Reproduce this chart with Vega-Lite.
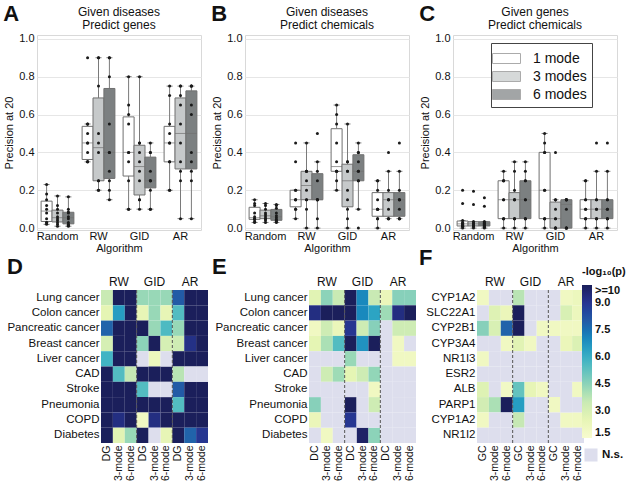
{
"$schema":"https://vega.github.io/schema/vega-lite/v6.json",
"padding":{"left":3,"top":3,"right":0,"bottom":0},
"config":{"font":"Liberation Sans","view":{"stroke":null},"axis":{"labelColor":"#111111","titleColor":"#111111","labelFont":"Liberation Sans","titleFont":"Liberation Sans","titleFontWeight":"normal"},"title":{"color":"#111111","font":"Liberation Sans"},"legend":{"labelColor":"#111111","titleColor":"#111111","labelFont":"Liberation Sans","titleFont":"Liberation Sans"}},
"datasets":{
"A":[
{"a":"Random","m":"1 mode","v":0.02},{"a":"Random","m":"1 mode","v":0.03},{"a":"Random","m":"1 mode","v":0.03},{"a":"Random","m":"1 mode","v":0.05},{"a":"Random","m":"1 mode","v":0.08},{"a":"Random","m":"1 mode","v":0.1},{"a":"Random","m":"1 mode","v":0.12},{"a":"Random","m":"1 mode","v":0.15},{"a":"Random","m":"1 mode","v":0.18},{"a":"Random","m":"1 mode","v":0.23},
{"a":"Random","m":"3 modes","v":0.01},{"a":"Random","m":"3 modes","v":0.02},{"a":"Random","m":"3 modes","v":0.03},{"a":"Random","m":"3 modes","v":0.04},{"a":"Random","m":"3 modes","v":0.05},{"a":"Random","m":"3 modes","v":0.06},{"a":"Random","m":"3 modes","v":0.08},{"a":"Random","m":"3 modes","v":0.1},{"a":"Random","m":"3 modes","v":0.12},{"a":"Random","m":"3 modes","v":0.17},
{"a":"Random","m":"6 modes","v":0.01},{"a":"Random","m":"6 modes","v":0.015},{"a":"Random","m":"6 modes","v":0.02},{"a":"Random","m":"6 modes","v":0.03},{"a":"Random","m":"6 modes","v":0.05},{"a":"Random","m":"6 modes","v":0.06},{"a":"Random","m":"6 modes","v":0.08},{"a":"Random","m":"6 modes","v":0.085},{"a":"Random","m":"6 modes","v":0.1},{"a":"Random","m":"6 modes","v":0.165},
{"a":"RW","m":"1 mode","v":0.35},{"a":"RW","m":"1 mode","v":0.35},{"a":"RW","m":"1 mode","v":0.35},{"a":"RW","m":"1 mode","v":0.4},{"a":"RW","m":"1 mode","v":0.45},{"a":"RW","m":"1 mode","v":0.45},{"a":"RW","m":"1 mode","v":0.5},{"a":"RW","m":"1 mode","v":0.55},{"a":"RW","m":"1 mode","v":0.55},{"a":"RW","m":"1 mode","v":0.9},
{"a":"RW","m":"3 modes","v":0.2},{"a":"RW","m":"3 modes","v":0.2},{"a":"RW","m":"3 modes","v":0.25},{"a":"RW","m":"3 modes","v":0.25},{"a":"RW","m":"3 modes","v":0.4},{"a":"RW","m":"3 modes","v":0.45},{"a":"RW","m":"3 modes","v":0.5},{"a":"RW","m":"3 modes","v":0.75},{"a":"RW","m":"3 modes","v":0.9},{"a":"RW","m":"3 modes","v":0.9},
{"a":"RW","m":"6 modes","v":0.15},{"a":"RW","m":"6 modes","v":0.2},{"a":"RW","m":"6 modes","v":0.25},{"a":"RW","m":"6 modes","v":0.3},{"a":"RW","m":"6 modes","v":0.4},{"a":"RW","m":"6 modes","v":0.4},{"a":"RW","m":"6 modes","v":0.55},{"a":"RW","m":"6 modes","v":0.8},{"a":"RW","m":"6 modes","v":0.9},{"a":"RW","m":"6 modes","v":0.9},
{"a":"GID","m":"1 mode","v":0.1},{"a":"GID","m":"1 mode","v":0.1},{"a":"GID","m":"1 mode","v":0.25},{"a":"GID","m":"1 mode","v":0.35},{"a":"GID","m":"1 mode","v":0.4},{"a":"GID","m":"1 mode","v":0.4},{"a":"GID","m":"1 mode","v":0.55},{"a":"GID","m":"1 mode","v":0.6},{"a":"GID","m":"1 mode","v":0.65},{"a":"GID","m":"1 mode","v":0.8},
{"a":"GID","m":"3 modes","v":0.1},{"a":"GID","m":"3 modes","v":0.15},{"a":"GID","m":"3 modes","v":0.15},{"a":"GID","m":"3 modes","v":0.25},{"a":"GID","m":"3 modes","v":0.3},{"a":"GID","m":"3 modes","v":0.35},{"a":"GID","m":"3 modes","v":0.4},{"a":"GID","m":"3 modes","v":0.45},{"a":"GID","m":"3 modes","v":0.45},{"a":"GID","m":"3 modes","v":0.8},
{"a":"GID","m":"6 modes","v":0.1},{"a":"GID","m":"6 modes","v":0.1},{"a":"GID","m":"6 modes","v":0.2},{"a":"GID","m":"6 modes","v":0.25},{"a":"GID","m":"6 modes","v":0.25},{"a":"GID","m":"6 modes","v":0.25},{"a":"GID","m":"6 modes","v":0.3},{"a":"GID","m":"6 modes","v":0.4},{"a":"GID","m":"6 modes","v":0.4},{"a":"GID","m":"6 modes","v":0.45},
{"a":"AR","m":"1 mode","v":0.2},{"a":"AR","m":"1 mode","v":0.2},{"a":"AR","m":"1 mode","v":0.35},{"a":"AR","m":"1 mode","v":0.35},{"a":"AR","m":"1 mode","v":0.45},{"a":"AR","m":"1 mode","v":0.45},{"a":"AR","m":"1 mode","v":0.5},{"a":"AR","m":"1 mode","v":0.55},{"a":"AR","m":"1 mode","v":0.7},{"a":"AR","m":"1 mode","v":0.75},
{"a":"AR","m":"3 modes","v":0.05},{"a":"AR","m":"3 modes","v":0.25},{"a":"AR","m":"3 modes","v":0.3},{"a":"AR","m":"3 modes","v":0.35},{"a":"AR","m":"3 modes","v":0.45},{"a":"AR","m":"3 modes","v":0.55},{"a":"AR","m":"3 modes","v":0.65},{"a":"AR","m":"3 modes","v":0.7},{"a":"AR","m":"3 modes","v":0.75},{"a":"AR","m":"3 modes","v":0.75},
{"a":"AR","m":"6 modes","v":0.05},{"a":"AR","m":"6 modes","v":0.25},{"a":"AR","m":"6 modes","v":0.3},{"a":"AR","m":"6 modes","v":0.35},{"a":"AR","m":"6 modes","v":0.4},{"a":"AR","m":"6 modes","v":0.6},{"a":"AR","m":"6 modes","v":0.65},{"a":"AR","m":"6 modes","v":0.75},{"a":"AR","m":"6 modes","v":0.75},{"a":"AR","m":"6 modes","v":0.75}
],
"B":[
{"a":"Random","m":"1 mode","v":0.03},{"a":"Random","m":"1 mode","v":0.035},{"a":"Random","m":"1 mode","v":0.045},{"a":"Random","m":"1 mode","v":0.05},{"a":"Random","m":"1 mode","v":0.05},{"a":"Random","m":"1 mode","v":0.06},{"a":"Random","m":"1 mode","v":0.08},{"a":"Random","m":"1 mode","v":0.12},{"a":"Random","m":"1 mode","v":0.13},{"a":"Random","m":"1 mode","v":0.15},
{"a":"Random","m":"3 modes","v":0.03},{"a":"Random","m":"3 modes","v":0.04},{"a":"Random","m":"3 modes","v":0.05},{"a":"Random","m":"3 modes","v":0.05},{"a":"Random","m":"3 modes","v":0.06},{"a":"Random","m":"3 modes","v":0.07},{"a":"Random","m":"3 modes","v":0.08},{"a":"Random","m":"3 modes","v":0.1},{"a":"Random","m":"3 modes","v":0.12},{"a":"Random","m":"3 modes","v":0.13},
{"a":"Random","m":"6 modes","v":0.03},{"a":"Random","m":"6 modes","v":0.035},{"a":"Random","m":"6 modes","v":0.04},{"a":"Random","m":"6 modes","v":0.045},{"a":"Random","m":"6 modes","v":0.055},{"a":"Random","m":"6 modes","v":0.065},{"a":"Random","m":"6 modes","v":0.08},{"a":"Random","m":"6 modes","v":0.105},{"a":"Random","m":"6 modes","v":0.12},{"a":"Random","m":"6 modes","v":0.125},
{"a":"RW","m":"1 mode","v":0.05},{"a":"RW","m":"1 mode","v":0.1},{"a":"RW","m":"1 mode","v":0.1},{"a":"RW","m":"1 mode","v":0.15},{"a":"RW","m":"1 mode","v":0.15},{"a":"RW","m":"1 mode","v":0.15},{"a":"RW","m":"1 mode","v":0.2},{"a":"RW","m":"1 mode","v":0.2},{"a":"RW","m":"1 mode","v":0.35},{"a":"RW","m":"1 mode","v":0.45},
{"a":"RW","m":"3 modes","v":0.0},{"a":"RW","m":"3 modes","v":0.1},{"a":"RW","m":"3 modes","v":0.15},{"a":"RW","m":"3 modes","v":0.15},{"a":"RW","m":"3 modes","v":0.2},{"a":"RW","m":"3 modes","v":0.25},{"a":"RW","m":"3 modes","v":0.3},{"a":"RW","m":"3 modes","v":0.3},{"a":"RW","m":"3 modes","v":0.3},{"a":"RW","m":"3 modes","v":0.45},
{"a":"RW","m":"6 modes","v":0.0},{"a":"RW","m":"6 modes","v":0.05},{"a":"RW","m":"6 modes","v":0.15},{"a":"RW","m":"6 modes","v":0.15},{"a":"RW","m":"6 modes","v":0.15},{"a":"RW","m":"6 modes","v":0.15},{"a":"RW","m":"6 modes","v":0.25},{"a":"RW","m":"6 modes","v":0.3},{"a":"RW","m":"6 modes","v":0.35},{"a":"RW","m":"6 modes","v":0.5},
{"a":"GID","m":"1 mode","v":0.2},{"a":"GID","m":"1 mode","v":0.25},{"a":"GID","m":"1 mode","v":0.3},{"a":"GID","m":"1 mode","v":0.3},{"a":"GID","m":"1 mode","v":0.3},{"a":"GID","m":"1 mode","v":0.35},{"a":"GID","m":"1 mode","v":0.45},{"a":"GID","m":"1 mode","v":0.55},{"a":"GID","m":"1 mode","v":0.6},{"a":"GID","m":"1 mode","v":0.65},
{"a":"GID","m":"3 modes","v":0.0},{"a":"GID","m":"3 modes","v":0.05},{"a":"GID","m":"3 modes","v":0.1},{"a":"GID","m":"3 modes","v":0.15},{"a":"GID","m":"3 modes","v":0.2},{"a":"GID","m":"3 modes","v":0.3},{"a":"GID","m":"3 modes","v":0.3},{"a":"GID","m":"3 modes","v":0.35},{"a":"GID","m":"3 modes","v":0.35},{"a":"GID","m":"3 modes","v":0.55},
{"a":"GID","m":"6 modes","v":0.0},{"a":"GID","m":"6 modes","v":0.1},{"a":"GID","m":"6 modes","v":0.25},{"a":"GID","m":"6 modes","v":0.25},{"a":"GID","m":"6 modes","v":0.3},{"a":"GID","m":"6 modes","v":0.3},{"a":"GID","m":"6 modes","v":0.35},{"a":"GID","m":"6 modes","v":0.4},{"a":"GID","m":"6 modes","v":0.4},{"a":"GID","m":"6 modes","v":0.45},
{"a":"AR","m":"1 mode","v":0.0},{"a":"AR","m":"1 mode","v":0.05},{"a":"AR","m":"1 mode","v":0.05},{"a":"AR","m":"1 mode","v":0.1},{"a":"AR","m":"1 mode","v":0.1},{"a":"AR","m":"1 mode","v":0.1},{"a":"AR","m":"1 mode","v":0.15},{"a":"AR","m":"1 mode","v":0.2},{"a":"AR","m":"1 mode","v":0.25},{"a":"AR","m":"1 mode","v":0.25},
{"a":"AR","m":"3 modes","v":0.05},{"a":"AR","m":"3 modes","v":0.05},{"a":"AR","m":"3 modes","v":0.05},{"a":"AR","m":"3 modes","v":0.1},{"a":"AR","m":"3 modes","v":0.15},{"a":"AR","m":"3 modes","v":0.15},{"a":"AR","m":"3 modes","v":0.15},{"a":"AR","m":"3 modes","v":0.2},{"a":"AR","m":"3 modes","v":0.3},{"a":"AR","m":"3 modes","v":0.4},
{"a":"AR","m":"6 modes","v":0.05},{"a":"AR","m":"6 modes","v":0.05},{"a":"AR","m":"6 modes","v":0.05},{"a":"AR","m":"6 modes","v":0.1},{"a":"AR","m":"6 modes","v":0.15},{"a":"AR","m":"6 modes","v":0.15},{"a":"AR","m":"6 modes","v":0.15},{"a":"AR","m":"6 modes","v":0.2},{"a":"AR","m":"6 modes","v":0.3},{"a":"AR","m":"6 modes","v":0.45}
],
"C":[
{"a":"Random","m":"1 mode","v":0.0},{"a":"Random","m":"1 mode","v":0.01},{"a":"Random","m":"1 mode","v":0.01},{"a":"Random","m":"1 mode","v":0.015},{"a":"Random","m":"1 mode","v":0.02},{"a":"Random","m":"1 mode","v":0.025},{"a":"Random","m":"1 mode","v":0.03},{"a":"Random","m":"1 mode","v":0.04},{"a":"Random","m":"1 mode","v":0.13},{"a":"Random","m":"1 mode","v":0.2},
{"a":"Random","m":"3 modes","v":0.0},{"a":"Random","m":"3 modes","v":0.01},{"a":"Random","m":"3 modes","v":0.01},{"a":"Random","m":"3 modes","v":0.015},{"a":"Random","m":"3 modes","v":0.02},{"a":"Random","m":"3 modes","v":0.025},{"a":"Random","m":"3 modes","v":0.03},{"a":"Random","m":"3 modes","v":0.035},{"a":"Random","m":"3 modes","v":0.125},{"a":"Random","m":"3 modes","v":0.195},
{"a":"Random","m":"6 modes","v":0.0},{"a":"Random","m":"6 modes","v":0.005},{"a":"Random","m":"6 modes","v":0.01},{"a":"Random","m":"6 modes","v":0.015},{"a":"Random","m":"6 modes","v":0.02},{"a":"Random","m":"6 modes","v":0.025},{"a":"Random","m":"6 modes","v":0.03},{"a":"Random","m":"6 modes","v":0.035},{"a":"Random","m":"6 modes","v":0.115},{"a":"Random","m":"6 modes","v":0.16},
{"a":"RW","m":"1 mode","v":0.0},{"a":"RW","m":"1 mode","v":0.05},{"a":"RW","m":"1 mode","v":0.05},{"a":"RW","m":"1 mode","v":0.05},{"a":"RW","m":"1 mode","v":0.15},{"a":"RW","m":"1 mode","v":0.15},{"a":"RW","m":"1 mode","v":0.25},{"a":"RW","m":"1 mode","v":0.25},{"a":"RW","m":"1 mode","v":0.25},{"a":"RW","m":"1 mode","v":0.3},
{"a":"RW","m":"3 modes","v":0.0},{"a":"RW","m":"3 modes","v":0.05},{"a":"RW","m":"3 modes","v":0.05},{"a":"RW","m":"3 modes","v":0.05},{"a":"RW","m":"3 modes","v":0.15},{"a":"RW","m":"3 modes","v":0.15},{"a":"RW","m":"3 modes","v":0.15},{"a":"RW","m":"3 modes","v":0.2},{"a":"RW","m":"3 modes","v":0.3},{"a":"RW","m":"3 modes","v":0.35},
{"a":"RW","m":"6 modes","v":0.0},{"a":"RW","m":"6 modes","v":0.05},{"a":"RW","m":"6 modes","v":0.05},{"a":"RW","m":"6 modes","v":0.05},{"a":"RW","m":"6 modes","v":0.15},{"a":"RW","m":"6 modes","v":0.15},{"a":"RW","m":"6 modes","v":0.25},{"a":"RW","m":"6 modes","v":0.25},{"a":"RW","m":"6 modes","v":0.3},{"a":"RW","m":"6 modes","v":0.35},
{"a":"GID","m":"1 mode","v":0.0},{"a":"GID","m":"1 mode","v":0.05},{"a":"GID","m":"1 mode","v":0.05},{"a":"GID","m":"1 mode","v":0.05},{"a":"GID","m":"1 mode","v":0.2},{"a":"GID","m":"1 mode","v":0.2},{"a":"GID","m":"1 mode","v":0.4},{"a":"GID","m":"1 mode","v":0.4},{"a":"GID","m":"1 mode","v":0.45},{"a":"GID","m":"1 mode","v":0.5},
{"a":"GID","m":"3 modes","v":0.0},{"a":"GID","m":"3 modes","v":0.0},{"a":"GID","m":"3 modes","v":0.0},{"a":"GID","m":"3 modes","v":0.0},{"a":"GID","m":"3 modes","v":0.05},{"a":"GID","m":"3 modes","v":0.05},{"a":"GID","m":"3 modes","v":0.1},{"a":"GID","m":"3 modes","v":0.15},{"a":"GID","m":"3 modes","v":0.15},{"a":"GID","m":"3 modes","v":0.4},
{"a":"GID","m":"6 modes","v":0.0},{"a":"GID","m":"6 modes","v":0.0},{"a":"GID","m":"6 modes","v":0.0},{"a":"GID","m":"6 modes","v":0.0},{"a":"GID","m":"6 modes","v":0.1},{"a":"GID","m":"6 modes","v":0.15},{"a":"GID","m":"6 modes","v":0.15},{"a":"GID","m":"6 modes","v":0.15},{"a":"GID","m":"6 modes","v":0.15},{"a":"GID","m":"6 modes","v":0.15},
{"a":"AR","m":"1 mode","v":0.0},{"a":"AR","m":"1 mode","v":0.05},{"a":"AR","m":"1 mode","v":0.05},{"a":"AR","m":"1 mode","v":0.05},{"a":"AR","m":"1 mode","v":0.1},{"a":"AR","m":"1 mode","v":0.1},{"a":"AR","m":"1 mode","v":0.15},{"a":"AR","m":"1 mode","v":0.15},{"a":"AR","m":"1 mode","v":0.25},{"a":"AR","m":"1 mode","v":0.25},
{"a":"AR","m":"3 modes","v":0.0},{"a":"AR","m":"3 modes","v":0.05},{"a":"AR","m":"3 modes","v":0.05},{"a":"AR","m":"3 modes","v":0.05},{"a":"AR","m":"3 modes","v":0.1},{"a":"AR","m":"3 modes","v":0.1},{"a":"AR","m":"3 modes","v":0.15},{"a":"AR","m":"3 modes","v":0.15},{"a":"AR","m":"3 modes","v":0.3},{"a":"AR","m":"3 modes","v":0.45},
{"a":"AR","m":"6 modes","v":0.0},{"a":"AR","m":"6 modes","v":0.05},{"a":"AR","m":"6 modes","v":0.05},{"a":"AR","m":"6 modes","v":0.05},{"a":"AR","m":"6 modes","v":0.1},{"a":"AR","m":"6 modes","v":0.1},{"a":"AR","m":"6 modes","v":0.15},{"a":"AR","m":"6 modes","v":0.15},{"a":"AR","m":"6 modes","v":0.3},{"a":"AR","m":"6 modes","v":0.45}
],
"D":[
{"r":"Lung cancer","c":"RW|DG","v":3.5},{"r":"Lung cancer","c":"RW|3-mode","v":10},{"r":"Lung cancer","c":"RW|6-mode","v":10},{"r":"Lung cancer","c":"GID|DG","v":4.3},{"r":"Lung cancer","c":"GID|3-mode","v":4.3},{"r":"Lung cancer","c":"GID|6-mode","v":4.3},{"r":"Lung cancer","c":"AR|DG","v":8},{"r":"Lung cancer","c":"AR|3-mode","v":10},{"r":"Lung cancer","c":"AR|6-mode","v":10},
{"r":"Colon cancer","c":"RW|DG","v":2.6},{"r":"Colon cancer","c":"RW|3-mode","v":6.5},{"r":"Colon cancer","c":"RW|6-mode","v":10},{"r":"Colon cancer","c":"GID|DG","v":2.5},{"r":"Colon cancer","c":"GID|3-mode","v":4.3},{"r":"Colon cancer","c":"GID|6-mode","v":2.5},{"r":"Colon cancer","c":"AR|DG","v":5.5},{"r":"Colon cancer","c":"AR|3-mode","v":10},{"r":"Colon cancer","c":"AR|6-mode","v":10},
{"r":"Pancreatic cancer","c":"RW|DG","v":7.8},{"r":"Pancreatic cancer","c":"RW|3-mode","v":10},{"r":"Pancreatic cancer","c":"RW|6-mode","v":10},{"r":"Pancreatic cancer","c":"GID|DG","v":10},{"r":"Pancreatic cancer","c":"GID|3-mode","v":4.3},{"r":"Pancreatic cancer","c":"GID|6-mode","v":5.6},{"r":"Pancreatic cancer","c":"AR|DG","v":4.3},{"r":"Pancreatic cancer","c":"AR|3-mode","v":10},{"r":"Pancreatic cancer","c":"AR|6-mode","v":10},
{"r":"Breast cancer","c":"RW|DG","v":3.1},{"r":"Breast cancer","c":"RW|3-mode","v":10},{"r":"Breast cancer","c":"RW|6-mode","v":10},{"r":"Breast cancer","c":"GID|DG","v":4.5},{"r":"Breast cancer","c":"GID|3-mode","v":10},{"r":"Breast cancer","c":"GID|6-mode","v":3.1},{"r":"Breast cancer","c":"AR|DG","v":3.3},{"r":"Breast cancer","c":"AR|3-mode","v":9.2},{"r":"Breast cancer","c":"AR|6-mode","v":10},
{"r":"Liver cancer","c":"RW|DG","v":5.8},{"r":"Liver cancer","c":"RW|3-mode","v":10},{"r":"Liver cancer","c":"RW|6-mode","v":10},{"r":"Liver cancer","c":"GID|DG","v":null},{"r":"Liver cancer","c":"GID|3-mode","v":2.2},{"r":"Liver cancer","c":"GID|6-mode","v":null},{"r":"Liver cancer","c":"AR|DG","v":10},{"r":"Liver cancer","c":"AR|3-mode","v":10},{"r":"Liver cancer","c":"AR|6-mode","v":10},
{"r":"CAD","c":"RW|DG","v":10},{"r":"CAD","c":"RW|3-mode","v":5.5},{"r":"CAD","c":"RW|6-mode","v":3.6},{"r":"CAD","c":"GID|DG","v":10},{"r":"CAD","c":"GID|3-mode","v":10},{"r":"CAD","c":"GID|6-mode","v":10},{"r":"CAD","c":"AR|DG","v":3.8},{"r":"CAD","c":"AR|3-mode","v":null},{"r":"CAD","c":"AR|6-mode","v":null},
{"r":"Stroke","c":"RW|DG","v":10},{"r":"Stroke","c":"RW|3-mode","v":10},{"r":"Stroke","c":"RW|6-mode","v":10},{"r":"Stroke","c":"GID|DG","v":5.5},{"r":"Stroke","c":"GID|3-mode","v":null},{"r":"Stroke","c":"GID|6-mode","v":null},{"r":"Stroke","c":"AR|DG","v":8},{"r":"Stroke","c":"AR|3-mode","v":10},{"r":"Stroke","c":"AR|6-mode","v":10},
{"r":"Pneumonia","c":"RW|DG","v":10},{"r":"Pneumonia","c":"RW|3-mode","v":10},{"r":"Pneumonia","c":"RW|6-mode","v":10},{"r":"Pneumonia","c":"GID|DG","v":10},{"r":"Pneumonia","c":"GID|3-mode","v":10},{"r":"Pneumonia","c":"GID|6-mode","v":10},{"r":"Pneumonia","c":"AR|DG","v":5.5},{"r":"Pneumonia","c":"AR|3-mode","v":10},{"r":"Pneumonia","c":"AR|6-mode","v":10},
{"r":"COPD","c":"RW|DG","v":10},{"r":"COPD","c":"RW|3-mode","v":9.3},{"r":"COPD","c":"RW|6-mode","v":10},{"r":"COPD","c":"GID|DG","v":2.0},{"r":"COPD","c":"GID|3-mode","v":9.3},{"r":"COPD","c":"GID|6-mode","v":10},{"r":"COPD","c":"AR|DG","v":10},{"r":"COPD","c":"AR|3-mode","v":10},{"r":"COPD","c":"AR|6-mode","v":10},
{"r":"Diabetes","c":"RW|DG","v":10},{"r":"Diabetes","c":"RW|3-mode","v":2.7},{"r":"Diabetes","c":"RW|6-mode","v":4.3},{"r":"Diabetes","c":"GID|DG","v":10},{"r":"Diabetes","c":"GID|3-mode","v":null},{"r":"Diabetes","c":"GID|6-mode","v":2.5},{"r":"Diabetes","c":"AR|DG","v":10},{"r":"Diabetes","c":"AR|3-mode","v":7.8},{"r":"Diabetes","c":"AR|6-mode","v":9.0}
],
"E":[
{"r":"Lung cancer","c":"RW|DC","v":2.7},{"r":"Lung cancer","c":"RW|3-mode","v":4.5},{"r":"Lung cancer","c":"RW|6-mode","v":3.5},{"r":"Lung cancer","c":"GID|DC","v":10},{"r":"Lung cancer","c":"GID|3-mode","v":7},{"r":"Lung cancer","c":"GID|6-mode","v":3.5},{"r":"Lung cancer","c":"AR|DC","v":2.3},{"r":"Lung cancer","c":"AR|3-mode","v":4.6},{"r":"Lung cancer","c":"AR|6-mode","v":4.6},
{"r":"Colon cancer","c":"RW|DC","v":9.3},{"r":"Colon cancer","c":"RW|3-mode","v":10},{"r":"Colon cancer","c":"RW|6-mode","v":10},{"r":"Colon cancer","c":"GID|DC","v":10},{"r":"Colon cancer","c":"GID|3-mode","v":7},{"r":"Colon cancer","c":"GID|6-mode","v":6.3},{"r":"Colon cancer","c":"AR|DC","v":4.2},{"r":"Colon cancer","c":"AR|3-mode","v":9.3},{"r":"Colon cancer","c":"AR|6-mode","v":10},
{"r":"Pancreatic cancer","c":"RW|DC","v":2.0},{"r":"Pancreatic cancer","c":"RW|3-mode","v":3.3},{"r":"Pancreatic cancer","c":"RW|6-mode","v":2.3},{"r":"Pancreatic cancer","c":"GID|DC","v":9},{"r":"Pancreatic cancer","c":"GID|3-mode","v":3.3},{"r":"Pancreatic cancer","c":"GID|6-mode","v":4.6},{"r":"Pancreatic cancer","c":"AR|DC","v":null},{"r":"Pancreatic cancer","c":"AR|3-mode","v":3.3},{"r":"Pancreatic cancer","c":"AR|6-mode","v":3.3},
{"r":"Breast cancer","c":"RW|DC","v":2.6},{"r":"Breast cancer","c":"RW|3-mode","v":4.0},{"r":"Breast cancer","c":"RW|6-mode","v":5.5},{"r":"Breast cancer","c":"GID|DC","v":10},{"r":"Breast cancer","c":"GID|3-mode","v":6.8},{"r":"Breast cancer","c":"GID|6-mode","v":10},{"r":"Breast cancer","c":"AR|DC","v":null},{"r":"Breast cancer","c":"AR|3-mode","v":2.0},{"r":"Breast cancer","c":"AR|6-mode","v":null},
{"r":"Liver cancer","c":"RW|DC","v":null},{"r":"Liver cancer","c":"RW|3-mode","v":null},{"r":"Liver cancer","c":"RW|6-mode","v":null},{"r":"Liver cancer","c":"GID|DC","v":4.3},{"r":"Liver cancer","c":"GID|3-mode","v":null},{"r":"Liver cancer","c":"GID|6-mode","v":null},{"r":"Liver cancer","c":"AR|DC","v":null},{"r":"Liver cancer","c":"AR|3-mode","v":2.0},{"r":"Liver cancer","c":"AR|6-mode","v":2.0},
{"r":"CAD","c":"RW|DC","v":null},{"r":"CAD","c":"RW|3-mode","v":3.3},{"r":"CAD","c":"RW|6-mode","v":4.2},{"r":"CAD","c":"GID|DC","v":2.6},{"r":"CAD","c":"GID|3-mode","v":3.3},{"r":"CAD","c":"GID|6-mode","v":4.4},{"r":"CAD","c":"AR|DC","v":null},{"r":"CAD","c":"AR|3-mode","v":null},{"r":"CAD","c":"AR|6-mode","v":null},
{"r":"Stroke","c":"RW|DC","v":null},{"r":"Stroke","c":"RW|3-mode","v":null},{"r":"Stroke","c":"RW|6-mode","v":null},{"r":"Stroke","c":"GID|DC","v":null},{"r":"Stroke","c":"GID|3-mode","v":null},{"r":"Stroke","c":"GID|6-mode","v":2.0},{"r":"Stroke","c":"AR|DC","v":null},{"r":"Stroke","c":"AR|3-mode","v":null},{"r":"Stroke","c":"AR|6-mode","v":null},
{"r":"Pneumonia","c":"RW|DC","v":4.6},{"r":"Pneumonia","c":"RW|3-mode","v":null},{"r":"Pneumonia","c":"RW|6-mode","v":null},{"r":"Pneumonia","c":"GID|DC","v":10},{"r":"Pneumonia","c":"GID|3-mode","v":null},{"r":"Pneumonia","c":"GID|6-mode","v":3.3},{"r":"Pneumonia","c":"AR|DC","v":null},{"r":"Pneumonia","c":"AR|3-mode","v":null},{"r":"Pneumonia","c":"AR|6-mode","v":null},
{"r":"COPD","c":"RW|DC","v":2.3},{"r":"COPD","c":"RW|3-mode","v":null},{"r":"COPD","c":"RW|6-mode","v":null},{"r":"COPD","c":"GID|DC","v":9},{"r":"COPD","c":"GID|3-mode","v":null},{"r":"COPD","c":"GID|6-mode","v":null},{"r":"COPD","c":"AR|DC","v":null},{"r":"COPD","c":"AR|3-mode","v":null},{"r":"COPD","c":"AR|6-mode","v":null},
{"r":"Diabetes","c":"RW|DC","v":null},{"r":"Diabetes","c":"RW|3-mode","v":2.0},{"r":"Diabetes","c":"RW|6-mode","v":null},{"r":"Diabetes","c":"GID|DC","v":null},{"r":"Diabetes","c":"GID|3-mode","v":9.8},{"r":"Diabetes","c":"GID|6-mode","v":4.5},{"r":"Diabetes","c":"AR|DC","v":null},{"r":"Diabetes","c":"AR|3-mode","v":null},{"r":"Diabetes","c":"AR|6-mode","v":null}
],
"F":[
{"r":"CYP1A2","c":"RW|GC","v":2.0},{"r":"CYP1A2","c":"RW|3-mode","v":null},{"r":"CYP1A2","c":"RW|6-mode","v":null},{"r":"CYP1A2","c":"GID|GC","v":3.8},{"r":"CYP1A2","c":"GID|3-mode","v":null},{"r":"CYP1A2","c":"GID|6-mode","v":null},{"r":"CYP1A2","c":"AR|GC","v":null},{"r":"CYP1A2","c":"AR|3-mode","v":2.0},{"r":"CYP1A2","c":"AR|6-mode","v":2.2},
{"r":"SLC22A1","c":"RW|GC","v":null},{"r":"SLC22A1","c":"RW|3-mode","v":2.8},{"r":"SLC22A1","c":"RW|6-mode","v":2.3},{"r":"SLC22A1","c":"GID|GC","v":10},{"r":"SLC22A1","c":"GID|3-mode","v":null},{"r":"SLC22A1","c":"GID|6-mode","v":null},{"r":"SLC22A1","c":"AR|GC","v":null},{"r":"SLC22A1","c":"AR|3-mode","v":3.0},{"r":"SLC22A1","c":"AR|6-mode","v":2.2},
{"r":"CYP2B1","c":"RW|GC","v":4.6},{"r":"CYP2B1","c":"RW|3-mode","v":3.0},{"r":"CYP2B1","c":"RW|6-mode","v":7.8},{"r":"CYP2B1","c":"GID|GC","v":10},{"r":"CYP2B1","c":"GID|3-mode","v":null},{"r":"CYP2B1","c":"GID|6-mode","v":2.0},{"r":"CYP2B1","c":"AR|GC","v":2.0},{"r":"CYP2B1","c":"AR|3-mode","v":2.0},{"r":"CYP2B1","c":"AR|6-mode","v":2.0},
{"r":"CYP3A4","c":"RW|GC","v":null},{"r":"CYP3A4","c":"RW|3-mode","v":null},{"r":"CYP3A4","c":"RW|6-mode","v":2.0},{"r":"CYP3A4","c":"GID|GC","v":2.7},{"r":"CYP3A4","c":"GID|3-mode","v":2.0},{"r":"CYP3A4","c":"GID|6-mode","v":null},{"r":"CYP3A4","c":"AR|GC","v":null},{"r":"CYP3A4","c":"AR|3-mode","v":2.3},{"r":"CYP3A4","c":"AR|6-mode","v":2.9},
{"r":"NR1I3","c":"RW|GC","v":2.0},{"r":"NR1I3","c":"RW|3-mode","v":null},{"r":"NR1I3","c":"RW|6-mode","v":null},{"r":"NR1I3","c":"GID|GC","v":null},{"r":"NR1I3","c":"GID|3-mode","v":null},{"r":"NR1I3","c":"GID|6-mode","v":null},{"r":"NR1I3","c":"AR|GC","v":null},{"r":"NR1I3","c":"AR|3-mode","v":null},{"r":"NR1I3","c":"AR|6-mode","v":null},
{"r":"ESR2","c":"RW|GC","v":null},{"r":"ESR2","c":"RW|3-mode","v":null},{"r":"ESR2","c":"RW|6-mode","v":null},{"r":"ESR2","c":"GID|GC","v":null},{"r":"ESR2","c":"GID|3-mode","v":null},{"r":"ESR2","c":"GID|6-mode","v":null},{"r":"ESR2","c":"AR|GC","v":null},{"r":"ESR2","c":"AR|3-mode","v":null},{"r":"ESR2","c":"AR|6-mode","v":null},
{"r":"ALB","c":"RW|GC","v":2.8},{"r":"ALB","c":"RW|3-mode","v":null},{"r":"ALB","c":"RW|6-mode","v":1.9},{"r":"ALB","c":"GID|GC","v":5.2},{"r":"ALB","c":"GID|3-mode","v":2.5},{"r":"ALB","c":"GID|6-mode","v":2.0},{"r":"ALB","c":"AR|GC","v":null},{"r":"ALB","c":"AR|3-mode","v":null},{"r":"ALB","c":"AR|6-mode","v":2.0},
{"r":"PARP1","c":"RW|GC","v":3.2},{"r":"PARP1","c":"RW|3-mode","v":4.0},{"r":"PARP1","c":"RW|6-mode","v":10},{"r":"PARP1","c":"GID|GC","v":6.5},{"r":"PARP1","c":"GID|3-mode","v":null},{"r":"PARP1","c":"GID|6-mode","v":null},{"r":"PARP1","c":"AR|GC","v":2.0},{"r":"PARP1","c":"AR|3-mode","v":null},{"r":"PARP1","c":"AR|6-mode","v":null},
{"r":"CYP1A2\u200b","c":"RW|GC","v":2.0},{"r":"CYP1A2\u200b","c":"RW|3-mode","v":null},{"r":"CYP1A2\u200b","c":"RW|6-mode","v":null},{"r":"CYP1A2\u200b","c":"GID|GC","v":3.6},{"r":"CYP1A2\u200b","c":"GID|3-mode","v":null},{"r":"CYP1A2\u200b","c":"GID|6-mode","v":null},{"r":"CYP1A2\u200b","c":"AR|GC","v":null},{"r":"CYP1A2\u200b","c":"AR|3-mode","v":2.0},{"r":"CYP1A2\u200b","c":"AR|6-mode","v":2.0},
{"r":"NR1I2","c":"RW|GC","v":null},{"r":"NR1I2","c":"RW|3-mode","v":null},{"r":"NR1I2","c":"RW|6-mode","v":null},{"r":"NR1I2","c":"GID|GC","v":null},{"r":"NR1I2","c":"GID|3-mode","v":null},{"r":"NR1I2","c":"GID|6-mode","v":null},{"r":"NR1I2","c":"AR|GC","v":null},{"r":"NR1I2","c":"AR|3-mode","v":null},{"r":"NR1I2","c":"AR|6-mode","v":null}
]
},
"spacing":-7,
"resolve":{"scale":{"color":"independent","fill":"independent"}},
"vconcat":[
{"hconcat":[
 {"title":{"text":"A","anchor":"start","frame":"bounds","fontSize":22,"fontWeight":"bold","offset":-21},
  "vconcat":[{
  "width":164,"height":195,"view":{"stroke":"#d9d9d9"},
  "title":{"text":["Given diseases","Predict genes"],"anchor":"middle","frame":"group","fontSize":12,"fontWeight":"normal","lineHeight":13,"offset":1},
  "data":{"name":"A"},
  "encoding":{
   "x":{"field":"a","type":"nominal","sort":["Random","RW","GID","AR"],"scale":{"paddingInner":0,"paddingOuter":0},"axis":{"title":"Algorithm","labelAngle":0,"ticks":false,"domain":false,"labelFontSize":11,"titleFontSize":11,"labelPadding":0,"titlePadding":1}},
   "xOffset":{"field":"m","type":"nominal","sort":["1 mode","3 modes","6 modes"],"scale":{"paddingInner":0,"paddingOuter":0.38}},
   "y":{"field":"v","type":"quantitative","scale":{"domain":[-0.01,1.02],"nice":false,"zero":false},"axis":{"title":"Precision at 20","values":[0,0.2,0.4,0.6,0.8,1],"format":".1f","grid":true,"gridColor":"#e6e6e6","ticks":false,"domain":false,"labelFontSize":11,"titleFontSize":11,"labelPadding":3,"titlePadding":4,"labelOverlap":false,"labelFlush":false}}
  },
  "layer":[
   {"mark":{"type":"boxplot","extent":1.5,"outliers":false,"size":11,"box":{"stroke":"#707070","strokeWidth":1},"median":{"color":"#707070"},"rule":{"color":"#7a7a7a"},"ticks":{"color":"#7a7a7a","size":6}},
    "encoding":{"color":{"field":"m","type":"nominal","scale":{"domain":["1 mode","3 modes","6 modes"],"range":["#ffffff","#c6c9ca","#7c8081"]},"legend":null}}},
   {"mark":{"type":"circle","size":9,"color":"#1a1a1a","opacity":1}}
  ]}]},
 {"title":{"text":"B","anchor":"start","frame":"bounds","fontSize":22,"fontWeight":"bold","offset":-21},
  "vconcat":[{
  "width":164,"height":195,"view":{"stroke":"#d9d9d9"},
  "title":{"text":["Given diseases","Predict chemicals"],"anchor":"middle","frame":"group","fontSize":12,"fontWeight":"normal","lineHeight":13,"offset":1},
  "data":{"name":"B"},
  "encoding":{
   "x":{"field":"a","type":"nominal","sort":["Random","RW","GID","AR"],"scale":{"paddingInner":0,"paddingOuter":0},"axis":{"title":"Algorithm","labelAngle":0,"ticks":false,"domain":false,"labelFontSize":11,"titleFontSize":11,"labelPadding":0,"titlePadding":1}},
   "xOffset":{"field":"m","type":"nominal","sort":["1 mode","3 modes","6 modes"],"scale":{"paddingInner":0,"paddingOuter":0.38}},
   "y":{"field":"v","type":"quantitative","scale":{"domain":[-0.01,1.02],"nice":false,"zero":false},"axis":{"title":"Precision at 20","values":[0,0.2,0.4,0.6,0.8,1],"format":".1f","grid":true,"gridColor":"#e6e6e6","ticks":false,"domain":false,"labelFontSize":11,"titleFontSize":11,"labelPadding":3,"titlePadding":4,"labelOverlap":false,"labelFlush":false}}
  },
  "layer":[
   {"mark":{"type":"boxplot","extent":1.5,"outliers":false,"size":11,"box":{"stroke":"#707070","strokeWidth":1},"median":{"color":"#707070"},"rule":{"color":"#7a7a7a"},"ticks":{"color":"#7a7a7a","size":6}},
    "encoding":{"color":{"field":"m","type":"nominal","scale":{"domain":["1 mode","3 modes","6 modes"],"range":["#ffffff","#c6c9ca","#7c8081"]},"legend":null}}},
   {"mark":{"type":"circle","size":9,"color":"#1a1a1a","opacity":1}}
  ]}]},
 {"title":{"text":"C","anchor":"start","frame":"bounds","fontSize":22,"fontWeight":"bold","offset":-21},
  "vconcat":[{
  "width":164,"height":195,"view":{"stroke":"#d9d9d9"},
  "title":{"text":["Given genes","Predict chemicals"],"anchor":"middle","frame":"group","fontSize":12,"fontWeight":"normal","lineHeight":13,"offset":1},
  "data":{"name":"C"},
  "encoding":{
   "x":{"field":"a","type":"nominal","sort":["Random","RW","GID","AR"],"scale":{"paddingInner":0,"paddingOuter":0},"axis":{"title":"Algorithm","labelAngle":0,"ticks":false,"domain":false,"labelFontSize":11,"titleFontSize":11,"labelPadding":0,"titlePadding":1}},
   "xOffset":{"field":"m","type":"nominal","sort":["1 mode","3 modes","6 modes"],"scale":{"paddingInner":0,"paddingOuter":0.38}},
   "y":{"field":"v","type":"quantitative","scale":{"domain":[-0.01,1.02],"nice":false,"zero":false},"axis":{"title":"Precision at 20","values":[0,0.2,0.4,0.6,0.8,1],"format":".1f","grid":true,"gridColor":"#e6e6e6","ticks":false,"domain":false,"labelFontSize":11,"titleFontSize":11,"labelPadding":3,"titlePadding":4,"labelOverlap":false,"labelFlush":false}}
  },
  "layer":[
   {"mark":{"type":"boxplot","extent":1.5,"outliers":false,"size":11,"box":{"stroke":"#707070","strokeWidth":1},"median":{"color":"#707070"},"rule":{"color":"#7a7a7a"},"ticks":{"color":"#7a7a7a","size":6}},
    "encoding":{"color":{"field":"m","type":"nominal","scale":{"domain":["1 mode","3 modes","6 modes"],"range":["#ffffff","#c6c9ca","#7c8081"]},
      "legend":{"orient":"none","legendX":38,"legendY":8,"title":null,"symbolType":"M-1.4,-0.5H1.4V0.5H-1.4Z","symbolSize":400,"symbolStrokeColor":"#888888","symbolStrokeWidth":1,"labelFontSize":14,"rowPadding":0,"labelOffset":16,"padding":5,"strokeColor":"#444444","fillColor":"#ffffff","cornerRadius":0}}}},
   {"mark":{"type":"circle","size":9,"color":"#1a1a1a","opacity":1}}
  ]}]}
 ],
 "spacing":9,
 "resolve":{"scale":{"color":"independent"}}},
{"hconcat":[
 {"title":{"text":"D","anchor":"start","frame":"bounds","fontSize":22,"fontWeight":"bold","offset":-4},
  "width":171,"height":153,
  "data":{"name":"D"},
  "layer":[
   {"transform":[{"filter":{"field":"v","valid":true}}],"mark":"rect",
    "encoding":{
     "x":{"field":"c","type":"nominal","scale":{"domain":["RW|DG","RW|3-mode","RW|6-mode","GID|DG","GID|3-mode","GID|6-mode","AR|DG","AR|3-mode","AR|6-mode"],"paddingInner":0,"paddingOuter":0,"rangeMin":64},"axis":{"orient":"bottom","title":null,"labelExpr":"split(datum.value,'|')[1]","labelAngle":-90,"ticks":false,"domain":false,"labelFontSize":10.5,"labelPadding":2}},
     "y":{"field":"r","type":"nominal","scale":{"domain":["Lung cancer","Colon cancer","Pancreatic cancer","Breast cancer","Liver cancer","CAD","Stroke","Pneumonia","COPD","Diabetes"],"paddingInner":0,"paddingOuter":0},"axis":{"title":null,"ticks":false,"domain":false,"labelFontSize":11.5,"labelPadding":2,"offset":-64}},
     "color":{"field":"v","type":"quantitative","scale":{"domain":[1.5,2.5625,3.625,4.6875,5.75,6.8125,7.875,8.9375,10],"range":["#f7fbcf","#e6f5b4","#c5e8b4","#82cebb","#45b6c4","#2192c0","#245fa8","#263795","#1b1f5b"],"clamp":true},"legend":null}}},
   {"transform":[{"filter":"datum.v === null"}],"mark":"rect",
    "encoding":{
     "x":{"field":"c","type":"nominal","axis":null},
     "y":{"field":"r","type":"nominal","axis":{"title":null,"ticks":false,"domain":false,"labelFontSize":11.5,"labelPadding":2,"offset":-64}},
     "fill":{"datum":"N.s.","scale":{"range":["#dddeed"]},"legend":null}}},
   {"data":{"values":[{"c":"GID|DG"},{"c":"AR|DG"}]},"mark":{"type":"rule","strokeDash":[3,2],"color":"#555555","strokeWidth":1},
    "encoding":{"x":{"field":"c","type":"nominal","bandPosition":0,"axis":{"orient":"top","title":null,"labelExpr":"split(datum.value,'|')[1]=='3-mode' ? split(datum.value,'|')[0] : ''","labelAngle":0,"ticks":false,"domain":false,"labelFontSize":12,"labelPadding":2}}}}
  ],
  "resolve":{"axis":{"x":"independent"}}},
 {"title":{"text":"E","anchor":"start","frame":"bounds","fontSize":22,"fontWeight":"bold","offset":-4,"dx":-3},
  "width":107,"height":153,
  "data":{"name":"E"},
  "layer":[
   {"transform":[{"filter":{"field":"v","valid":true}}],"mark":"rect",
    "encoding":{
     "x":{"field":"c","type":"nominal","scale":{"domain":["RW|DC","RW|3-mode","RW|6-mode","GID|DC","GID|3-mode","GID|6-mode","AR|DC","AR|3-mode","AR|6-mode"],"paddingInner":0,"paddingOuter":0},"axis":{"orient":"bottom","title":null,"labelExpr":"split(datum.value,'|')[1]","labelAngle":-90,"ticks":false,"domain":false,"labelFontSize":10.5,"labelPadding":2}},
     "y":{"field":"r","type":"nominal","scale":{"domain":["Lung cancer","Colon cancer","Pancreatic cancer","Breast cancer","Liver cancer","CAD","Stroke","Pneumonia","COPD","Diabetes"],"paddingInner":0,"paddingOuter":0},"axis":{"title":null,"ticks":false,"domain":false,"labelFontSize":11.5,"labelPadding":2}},
     "color":{"field":"v","type":"quantitative","scale":{"domain":[1.5,2.5625,3.625,4.6875,5.75,6.8125,7.875,8.9375,10],"range":["#f7fbcf","#e6f5b4","#c5e8b4","#82cebb","#45b6c4","#2192c0","#245fa8","#263795","#1b1f5b"],"clamp":true},"legend":null}}},
   {"transform":[{"filter":"datum.v === null"}],"mark":"rect",
    "encoding":{
     "x":{"field":"c","type":"nominal","axis":null},
     "y":{"field":"r","type":"nominal","axis":{"title":null,"ticks":false,"domain":false,"labelFontSize":11.5,"labelPadding":2}},
     "fill":{"datum":"N.s.","scale":{"range":["#dddeed"]},"legend":null}}},
   {"data":{"values":[{"c":"GID|DC"},{"c":"AR|DC"}]},"mark":{"type":"rule","strokeDash":[3,2],"color":"#555555","strokeWidth":1},
    "encoding":{"x":{"field":"c","type":"nominal","bandPosition":0,"axis":{"orient":"top","title":null,"labelExpr":"split(datum.value,'|')[1]=='3-mode' ? split(datum.value,'|')[0] : ''","labelAngle":0,"ticks":false,"domain":false,"labelFontSize":12,"labelPadding":2}}}}
  ],
  "resolve":{"axis":{"x":"independent"}}},
 {"title":{"text":"F","anchor":"start","frame":"bounds","fontSize":22,"fontWeight":"bold","offset":-4},
  "width":107,"height":153,
  "data":{"name":"F"},
  "layer":[
   {"transform":[{"filter":{"field":"v","valid":true}}],"mark":"rect",
    "encoding":{
     "x":{"field":"c","type":"nominal","scale":{"domain":["RW|GC","RW|3-mode","RW|6-mode","GID|GC","GID|3-mode","GID|6-mode","AR|GC","AR|3-mode","AR|6-mode"],"paddingInner":0,"paddingOuter":0},"axis":{"orient":"bottom","title":null,"labelExpr":"split(datum.value,'|')[1]","labelAngle":-90,"ticks":false,"domain":false,"labelFontSize":10.5,"labelPadding":2}},
     "y":{"field":"r","type":"nominal","scale":{"domain":["CYP1A2","SLC22A1","CYP2B1","CYP3A4","NR1I3","ESR2","ALB","PARP1","CYP1A2\u200b","NR1I2"],"paddingInner":0,"paddingOuter":0},"axis":{"title":null,"ticks":false,"domain":false,"labelFontSize":11.5,"labelPadding":2,"minExtent":58}},
     "color":{"field":"v","type":"quantitative","scale":{"domain":[1.5,2.5625,3.625,4.6875,5.75,6.8125,7.875,8.9375,10],"range":["#f7fbcf","#e6f5b4","#c5e8b4","#82cebb","#45b6c4","#2192c0","#245fa8","#263795","#1b1f5b"],"clamp":true},
      "legend":{"orient":"none","legendX":105,"legendY":-24,"title":"-log₁₀(p)","titleFontSize":11,"titleFontWeight":"bold","titlePadding":8,"gradientLength":153,"gradientThickness":10,"gradientStrokeWidth":0,"values":[1.5,3,4.5,6,7.5,9,10],"labelExpr":"datum.value >= 10 ? '>=10' : format(datum.value, '.1f')","labelFontSize":11,"labelFontWeight":"bold","labelOverlap":false,"labelBaseline":"middle","labelOffset":3}}}},
   {"transform":[{"filter":"datum.v === null"}],"mark":"rect",
    "encoding":{
     "x":{"field":"c","type":"nominal","axis":null},
     "y":{"field":"r","type":"nominal","axis":{"title":null,"ticks":false,"domain":false,"labelFontSize":11.5,"labelPadding":2,"minExtent":58}},
     "fill":{"datum":"N.s.","scale":{"range":["#dddeed"]},"legend":{"orient":"none","legendX":107,"legendY":158,"title":null,"symbolType":"square","symbolSize":170,"symbolStrokeWidth":0,"labelFontSize":11.5,"labelFontWeight":"bold","labelOffset":4}}}},
   {"data":{"values":[{"c":"GID|GC"},{"c":"AR|GC"}]},"mark":{"type":"rule","strokeDash":[3,2],"color":"#555555","strokeWidth":1},
    "encoding":{"x":{"field":"c","type":"nominal","bandPosition":0,"axis":{"orient":"top","title":null,"labelExpr":"split(datum.value,'|')[1]=='3-mode' ? split(datum.value,'|')[0] : ''","labelAngle":0,"ticks":false,"domain":false,"labelFontSize":12,"labelPadding":2}}}}
  ],
  "resolve":{"axis":{"x":"independent"}}}
 ],
 "spacing":3,
 "resolve":{"scale":{"color":"independent","fill":"independent"}}}
]
}
